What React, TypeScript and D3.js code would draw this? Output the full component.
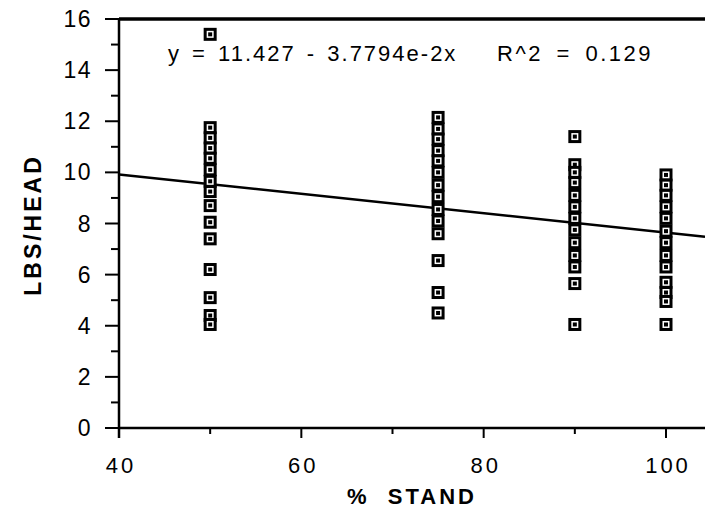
import React from "react";
import * as d3 from "d3";

const standX = [50, 75, 90, 100];
const lbs50 = [15.4, 11.75, 11.35, 10.95, 10.55, 10.1, 9.65, 9.25, 8.7, 8.05, 7.4, 6.2, 5.1, 4.4, 4.05];
const lbs75 = [12.15, 11.7, 11.3, 10.85, 10.45, 10.0, 9.5, 9.05, 8.55, 8.1, 7.6, 6.55, 5.3, 4.5];
const lbs90 = [11.4, 10.3, 10.0, 9.6, 9.1, 8.65, 8.2, 7.75, 7.25, 6.75, 6.3, 5.65, 4.05];
const lbs100 = [9.9, 9.5, 9.1, 8.65, 8.2, 7.7, 7.25, 6.75, 6.3, 5.7, 5.3, 4.95, 4.05];
const xTicks = [40, 60, 80, 100];
const xMinor = [50, 70, 90];
const yTicks = [0, 2, 4, 6, 8, 10, 12, 14, 16];
const yMinor = [1, 3, 5, 7, 9, 11, 13, 15];
const intercept = 11.427;
const slope = -0.037794;
const equationText = "y = 11.427 - 3.7794e-2x";
const r2Text = "R^2 = 0.129";

export default function App() {
  const W = 705, H = 512;
  const x = d3.scaleLinear().domain([40, 100]).range([119, 666]);
  const y = d3.scaleLinear().domain([0, 16]).range([428, 19]);
  const xEnd = x.invert(W);
  const series = [lbs50, lbs75, lbs90, lbs100];
  const pts = series.flatMap((arr, i) => arr.map((v) => ({ x: standX[i], y: v })));
  const line = d3.line<[number, number]>().x((d) => x(d[0])).y((d) => y(d[1]));
  const regPts: [number, number][] = [
    [40, intercept + slope * 40],
    [xEnd, intercept + slope * xEnd],
  ];
  const font = "'Liberation Sans', Arial, Helvetica, sans-serif";
  return (
    <svg width={W} height={H} style={{ position: "absolute", left: 0, top: 0, background: "#fff" }} fontFamily={font}>
      {/* frame */}
      <line x1={x(40)} x2={W} y1={y(16)} y2={y(16)} stroke="#000" strokeWidth={3.5} />
      <line x1={x(40)} x2={W} y1={y(0)} y2={y(0)} stroke="#000" strokeWidth={2.5} />
      <line x1={x(40)} x2={x(40)} y1={y(16)} y2={y(0) + 10} stroke="#000" strokeWidth={2.5} />
      {yTicks.map((t) => (
        <g key={"yt" + t}>
          <line x1={x(40) - 14} x2={x(40)} y1={y(t)} y2={y(t)} stroke="#000" strokeWidth={2} />
          <text x={92} y={y(t) + 8} textAnchor="end" fontSize={23} letterSpacing={1.5}>{t}</text>
        </g>
      ))}
      {yMinor.map((t) => (
        <line key={"ym" + t} x1={x(40) - 8} x2={x(40)} y1={y(t)} y2={y(t)} stroke="#000" strokeWidth={2} />
      ))}
      {xTicks.map((t) => (
        <g key={"xt" + t}>
          <line x1={x(t)} x2={x(t)} y1={y(0)} y2={y(0) + 10} stroke="#000" strokeWidth={2} />
          <text x={x(t) + 2} y={473} textAnchor="middle" fontSize={22} letterSpacing={3}>{t}</text>
        </g>
      ))}
      {xMinor.map((t) => (
        <line key={"xm" + t} x1={x(t)} x2={x(t)} y1={y(0)} y2={y(0) + 6} stroke="#000" strokeWidth={2} />
      ))}
      {/* regression */}
      <path d={line(regPts) || ""} stroke="#000" strokeWidth={2.5} fill="none" />
      {/* points */}
      {pts.map((p, i) => (
        <g key={"p" + i} transform={`translate(${x(p.x)},${y(p.y)})`}>
          <rect x={-6.5} y={-6.5} width={13} height={13} fill="#000" />
          <rect x={-3.5} y={-3.5} width={7} height={7} fill="#fff" />
          <rect x={-2} y={-2} width={4} height={4} fill="#000" />
        </g>
      ))}
      <text x={168} y={61} fontSize={22} style={{ whiteSpace: "pre" }} letterSpacing={2} wordSpacing={3}>{equationText}</text>
      <text x={497} y={61} fontSize={22} style={{ whiteSpace: "pre" }} letterSpacing={2.5} wordSpacing={5}>{r2Text}</text>
      <text transform={`translate(41,225) rotate(-90)`} textAnchor="middle" fontSize={23} fontWeight="bold" letterSpacing={3}>LBS/HEAD</text>
      <text x={412} y={504} textAnchor="middle" fontSize={22} fontWeight="bold" letterSpacing={3} style={{ whiteSpace: "pre" }}>{"%  STAND"}</text>
    </svg>
  );
}
